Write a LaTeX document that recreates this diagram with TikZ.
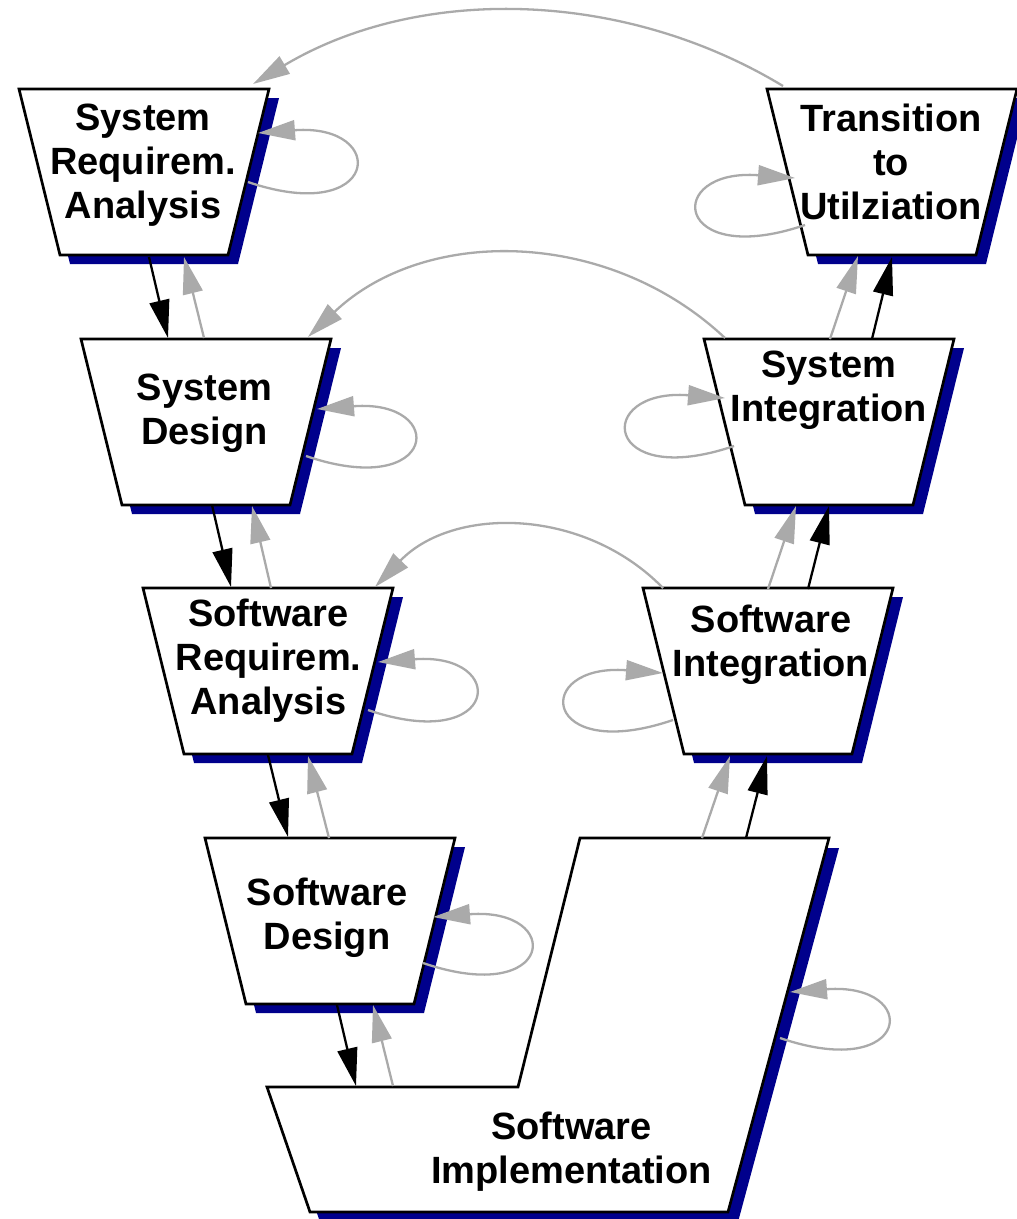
\documentclass[tikz,border=0pt]{standalone}
\usepackage{fontspec}
\setmainfont{Liberation Sans}
\usetikzlibrary{arrows.meta}
\definecolor{dropblue}{RGB}{0,0,140}
\definecolor{ret}{RGB}{170,170,170}

\begin{document}
\begin{tikzpicture}[x=1pt,y=-1pt,
  box/.style={draw=black, line width=2.7pt, fill=white, line join=miter},
  drop/.style={fill=dropblue, draw=none},
  lbl/.style={font=\fontsize{38}{44}\selectfont\bfseries, align=center, inner sep=0pt},
  fwd/.style={black, line width=2.3pt, -{Triangle[length=38pt,width=20pt]}},
  bwd/.style={ret, line width=2.3pt, -{Triangle[length=37pt,width=20pt]}},
  trap/.pic={
    \path[drop] (10,9) -- (260,9) -- (219,175) -- (51,175) -- cycle;
    \draw[box] (0,0) -- (250,0) -- (209,166) -- (41,166) -- cycle;
  }]
\useasboundingbox (0,0) rectangle (1017,1219);

% phase boxes (inverted trapezia with drop shadow)
\pic at (19,89)   {trap};
\pic at (767,89)  {trap};
\pic at (81,339)  {trap};
\pic at (704,339) {trap};
\pic at (143,588) {trap};
\pic at (643,588) {trap};
\pic at (205,838) {trap};

% implementation box at the bottom of the V
\path[drop] (277,1097) -- (528,1097) -- (590,848) -- (839,848) -- (738,1222) -- (320,1222) -- cycle;
\draw[box] (267,1087) -- (518,1087) -- (580,838) -- (829,838) -- (728,1212) -- (310,1212) -- cycle;

% labels
\node[lbl] (sra)  at (143,165.5)  {System\\Requirem.\\Analysis};
\node[lbl] (ttu)  at (891,161.5)  {Transition\\to\\Utilziation};
\node[lbl] (sd)   at (204.5,413)  {System\\Design};
\node[lbl] (si)   at (829,390.5)  {System\\Integration};
\node[lbl] (swra) at (268.5,661)  {Software\\Requirem.\\Analysis};
\node[lbl] (swi)  at (771,645)    {Software\\Integration};
\node[lbl] (swd)  at (327,918)    {Software\\Design};
\node[lbl] (swim) at (571.5,1151.5) {Software\\Implementation};

% connection points on the box edges
\coordinate (sra-o)   at (149,257);  \coordinate (sd-i)    at (168,338);
\coordinate (sd-o)    at (204,338);  \coordinate (sra-i)   at (184,257);
\coordinate (sd-b1)   at (212,505);  \coordinate (swra-t1) at (231,587);
\coordinate (swra-t2) at (271,588);  \coordinate (sd-b2)   at (252,506);
\coordinate (swra-b1) at (268,755);  \coordinate (swd-t1)  at (288,837);
\coordinate (swd-t2)  at (329,838);  \coordinate (swra-b2) at (308,756);
\coordinate (swd-b1)  at (337,1005); \coordinate (swim-t1) at (356,1086);
\coordinate (swim-t2) at (393,1086); \coordinate (swd-b2)  at (373,1005);
\coordinate (swim-t3) at (702,838);  \coordinate (swi-b1)  at (730,756);
\coordinate (swim-t4) at (746,838);  \coordinate (swi-b2)  at (767,756);
\coordinate (swi-t1)  at (768,589);  \coordinate (si-b1)   at (796,506);
\coordinate (swi-t2)  at (808,589);  \coordinate (si-b2)   at (829,506);
\coordinate (si-t1)   at (830,339);  \coordinate (ttu-b1)  at (858,256);
\coordinate (si-t2)   at (872,339);  \coordinate (ttu-b2)  at (892,257);

\coordinate (ttu-a)  at (783,86);  \coordinate (sra-a)  at (253,84);
\coordinate (si-a)   at (725,338); \coordinate (sd-a)   at (308,337);
\coordinate (swi-a)  at (663,588); \coordinate (swra-a) at (375,587);

\coordinate (sra-ls)  at (248,182);  \coordinate (sra-lt)  at (258,133);
\coordinate (sd-ls)   at (306,456);  \coordinate (sd-lt)   at (317,409);
\coordinate (swra-ls) at (368,710);  \coordinate (swra-lt) at (378,662);
\coordinate (swd-ls)  at (423,963);  \coordinate (swd-lt)  at (433,917);
\coordinate (swim-ls) at (780,1038); \coordinate (swim-lt) at (790,992);
\coordinate (ttu-ls)  at (805,225);  \coordinate (ttu-lt)  at (795,178);
\coordinate (si-ls)   at (734,446);  \coordinate (si-lt)   at (725,398);
\coordinate (swi-ls)  at (673,720);  \coordinate (swi-lt)  at (663,673);

% forward flow down the left leg and up the right leg
\draw[fwd] (sra-o) -- (sd-i);
\draw[fwd] (sd-b1) -- (swra-t1);
\draw[fwd] (swra-b1) -- (swd-t1);
\draw[fwd] (swd-b1) -- (swim-t1);
\draw[fwd] (swim-t4) -- (swi-b2);
\draw[fwd] (swi-t2) -- (si-b2);
\draw[fwd] (si-t2) -- (ttu-b2);

% feedback between neighbouring phases
\draw[bwd] (sd-o) -- (sra-i);
\draw[bwd] (swra-t2) -- (sd-b2);
\draw[bwd] (swd-t2) -- (swra-b2);
\draw[bwd] (swim-t2) -- (swd-b2);
\draw[bwd] (swim-t3) -- (swi-b1);
\draw[bwd] (swi-t1) -- (si-b1);
\draw[bwd] (si-t1) -- (ttu-b1);

% feedback across the V
\draw[bwd] (ttu-a) .. controls +(-162,-98) and +(164,-98) .. (sra-a);
\draw[bwd] (si-a) .. controls +(-117,-110) and +(117,-111) .. (sd-a);
\draw[bwd] (swi-a) .. controls +(-79,-81) and +(78,-81) .. (swra-a);

% iteration within a phase
\draw[bwd] (sra-ls)  .. controls +(132,45) and +(132,-10) .. (sra-lt);
\draw[bwd] (sd-ls)   .. controls +(132,45) and +(132,-10) .. (sd-lt);
\draw[bwd] (swra-ls) .. controls +(132,45) and +(132,-10) .. (swra-lt);
\draw[bwd] (swd-ls)  .. controls +(132,45) and +(132,-10) .. (swd-lt);
\draw[bwd] (swim-ls) .. controls +(132,45) and +(132,-10) .. (swim-lt);
\draw[bwd] (ttu-ls)  .. controls +(-132,45) and +(-132,-10) .. (ttu-lt);
\draw[bwd] (si-ls)   .. controls +(-132,45) and +(-132,-10) .. (si-lt);
\draw[bwd] (swi-ls)  .. controls +(-132,45) and +(-132,-10) .. (swi-lt);
\end{tikzpicture}
\end{document}
